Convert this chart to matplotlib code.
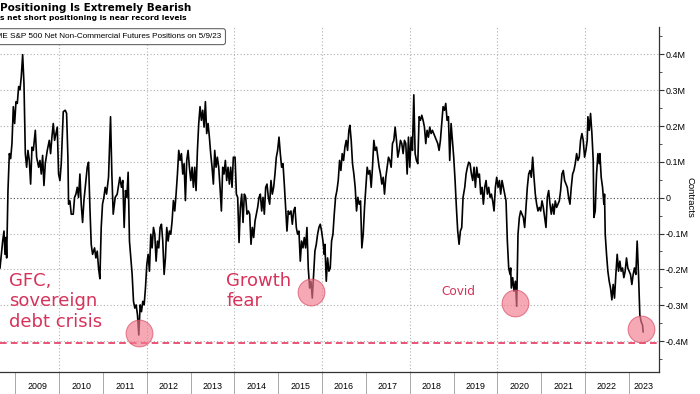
import matplotlib.pyplot as plt
from matplotlib.ticker import MultipleLocator

# CME S&P 500 net non-commercial futures positions (millions of contracts), weekly-ish reads
dates = [
    2008.649, 2008.710, 2008.740, 2008.763, 2008.786, 2008.801, 2008.831, 2008.862, 2008.892, 2008.922,
    2008.953, 2008.983, 2009.014, 2009.044, 2009.075, 2009.105, 2009.135, 2009.166, 2009.196, 2009.227,
    2009.257, 2009.287, 2009.318, 2009.348, 2009.379, 2009.409, 2009.455, 2009.485, 2009.531, 2009.561,
    2009.591, 2009.622, 2009.652, 2009.682, 2009.728, 2009.774, 2009.804, 2009.834, 2009.865, 2009.895,
    2009.926, 2009.956, 2009.986, 2010.017, 2010.047, 2010.093, 2010.138, 2010.169, 2010.199, 2010.214,
    2010.245, 2010.275, 2010.321, 2010.351, 2010.382, 2010.412, 2010.442, 2010.473, 2010.503, 2010.534,
    2010.564, 2010.610, 2010.640, 2010.670, 2010.701, 2010.731, 2010.762, 2010.807, 2010.837, 2010.868,
    2010.898, 2010.929, 2010.959, 2010.989, 2011.020, 2011.050, 2011.081, 2011.126, 2011.172, 2011.202,
    2011.233, 2011.278, 2011.324,
    2011.384, 2011.422, 2011.452, 2011.483, 2011.513, 2011.544, 2011.574, 2011.604, 2011.635, 2011.665,
    2011.696, 2011.726, 2011.756, 2011.787, 2011.817, 2011.848, 2011.878, 2011.908, 2011.939, 2011.969,
    2012.000, 2012.030, 2012.060, 2012.091, 2012.121, 2012.152, 2012.182, 2012.212, 2012.243, 2012.273,
    2012.303, 2012.334, 2012.364, 2012.395, 2012.425, 2012.455, 2012.486, 2012.516, 2012.547, 2012.577,
    2012.607, 2012.638, 2012.668, 2012.699, 2012.729, 2012.759, 2012.790, 2012.820, 2012.851, 2012.881,
    2012.911, 2012.942, 2012.972, 2013.003, 2013.033, 2013.063, 2013.094, 2013.124, 2013.155, 2013.185,
    2013.215, 2013.246, 2013.276, 2013.307, 2013.337, 2013.367, 2013.398, 2013.428, 2013.458, 2013.489,
    2013.519, 2013.550, 2013.580, 2013.610, 2013.641, 2013.671, 2013.702, 2013.732, 2013.762, 2013.793,
    2013.823, 2013.854, 2013.884, 2013.914, 2013.945, 2013.975,
    2014.014, 2014.044, 2014.074, 2014.105, 2014.135, 2014.166, 2014.196, 2014.226, 2014.257, 2014.287,
    2014.318, 2014.348, 2014.378, 2014.409, 2014.439, 2014.470, 2014.500, 2014.530, 2014.561, 2014.591,
    2014.622, 2014.652, 2014.682, 2014.713, 2014.743, 2014.774, 2014.804, 2014.834, 2014.865, 2014.895,
    2014.925, 2014.956, 2014.986, 2015.017, 2015.047, 2015.077, 2015.108, 2015.138, 2015.169, 2015.199,
    2015.229, 2015.260, 2015.290, 2015.321, 2015.351, 2015.381, 2015.412, 2015.442, 2015.472, 2015.503,
    2015.533, 2015.564, 2015.594, 2015.624, 2015.655, 2015.685, 2015.716, 2015.746, 2015.777, 2015.807,
    2015.837, 2015.868, 2015.898, 2015.928, 2015.959, 2015.989, 2016.020, 2016.050, 2016.065, 2016.096,
    2016.126, 2016.156, 2016.187, 2016.217, 2016.248, 2016.278, 2016.308, 2016.339, 2016.369, 2016.400,
    2016.430, 2016.460, 2016.491, 2016.521, 2016.552, 2016.582, 2016.612,
    2016.635, 2016.665, 2016.695, 2016.726, 2016.756, 2016.787, 2016.817, 2016.847, 2016.878, 2016.908,
    2016.939, 2016.969, 2016.999, 2017.030, 2017.060, 2017.091, 2017.121, 2017.151, 2017.182, 2017.212,
    2017.243, 2017.273, 2017.303, 2017.334, 2017.364, 2017.395, 2017.425, 2017.455, 2017.486, 2017.516,
    2017.546, 2017.577, 2017.607, 2017.638, 2017.668, 2017.698, 2017.729, 2017.759, 2017.790, 2017.820,
    2017.850, 2017.881, 2017.911, 2017.942, 2017.972, 2018.002, 2018.033, 2018.063, 2018.094, 2018.124,
    2018.154, 2018.185, 2018.215, 2018.246, 2018.276, 2018.306, 2018.337, 2018.367, 2018.397, 2018.428,
    2018.458, 2018.489, 2018.519, 2018.549, 2018.580, 2018.610, 2018.641, 2018.671, 2018.701, 2018.732,
    2018.762, 2018.793, 2018.823, 2018.853, 2018.884, 2018.914, 2018.945, 2018.975, 2019.005, 2019.036,
    2019.066, 2019.096, 2019.127, 2019.157, 2019.188, 2019.218,
    2019.257, 2019.287, 2019.317, 2019.348, 2019.378, 2019.409, 2019.439, 2019.469, 2019.500, 2019.530,
    2019.561, 2019.591, 2019.621, 2019.652, 2019.682, 2019.713, 2019.743, 2019.773, 2019.804, 2019.834,
    2019.864, 2019.895, 2019.925, 2019.956, 2019.986, 2020.017, 2020.047, 2020.077, 2020.108, 2020.138,
    2020.168, 2020.199, 2020.229, 2020.260, 2020.290, 2020.305, 2020.320, 2020.351, 2020.381, 2020.412,
    2020.442, 2020.457, 2020.472, 2020.503, 2020.533, 2020.564, 2020.594, 2020.624, 2020.655, 2020.685,
    2020.716, 2020.746, 2020.776, 2020.807, 2020.837, 2020.867, 2020.898, 2020.928, 2020.959, 2020.989,
    2021.020, 2021.050, 2021.080, 2021.111, 2021.141, 2021.172, 2021.202, 2021.232, 2021.263, 2021.293,
    2021.323, 2021.354, 2021.384, 2021.415, 2021.445, 2021.475, 2021.506, 2021.536, 2021.567, 2021.597,
    2021.627, 2021.658, 2021.688, 2021.719, 2021.749, 2021.779, 2021.810, 2021.840, 2021.870,
    2021.900, 2021.931, 2021.961, 2021.992, 2022.022, 2022.052, 2022.068, 2022.098, 2022.128, 2022.159,
    2022.189, 2022.204, 2022.235, 2022.265, 2022.296, 2022.326, 2022.341, 2022.371, 2022.402, 2022.432,
    2022.447, 2022.463, 2022.493, 2022.523, 2022.554, 2022.584, 2022.615, 2022.645, 2022.675, 2022.706,
    2022.736, 2022.767, 2022.797, 2022.827, 2022.858, 2022.888, 2022.918, 2022.949, 2022.979, 2023.010,
    2023.040, 2023.071, 2023.101, 2023.131, 2023.162, 2023.192, 2023.223, 2023.253, 2023.283, 2023.314,
    2023.329,
]
net_pos = [
    -0.196, -0.121, -0.093, -0.158, -0.111, -0.168, 0.020, 0.123, 0.109, 0.151,
    0.254, 0.207, 0.268, 0.263, 0.310, 0.301, 0.338, 0.399, 0.319, 0.123,
    0.085, 0.132, 0.104, 0.038, 0.141, 0.132, 0.188, 0.113, 0.085, 0.104,
    0.066, 0.118, 0.034, 0.095, 0.132, 0.160, 0.123, 0.169, 0.207, 0.160,
    0.179, 0.197, 0.066, 0.048, 0.095, 0.240, 0.244, 0.235, 0.113, -0.018,
    -0.009, -0.046, -0.046, 0.001, 0.010, 0.029, 0.001, 0.066, -0.018, -0.069,
    -0.009, 0.048, 0.085, 0.099, -0.027, -0.130, -0.158, -0.140, -0.168, -0.149,
    -0.196, -0.226, -0.083, -0.018, 0.001, 0.029, 0.010, 0.057, 0.226, 0.066,
    -0.046, 0.001, 0.010,
    0.057, 0.029, 0.048, -0.083, 0.020, 0.001, 0.071, -0.121, -0.168, -0.214,
    -0.289, -0.308, -0.299, -0.327, -0.383, -0.299, -0.318, -0.289, -0.299, -0.252,
    -0.186, -0.158, -0.205, -0.102, -0.140, -0.083, -0.102, -0.177, -0.121, -0.140,
    -0.083, -0.074, -0.121, -0.214, -0.168, -0.083, -0.121, -0.093, -0.102, -0.065,
    -0.008, -0.037, 0.010, 0.066, 0.132, 0.104, 0.123, 0.066, 0.095, -0.008,
    0.104, 0.132, 0.085, 0.048, 0.085, 0.029, 0.085, 0.020, 0.132, 0.207,
    0.254, 0.216, 0.244, 0.197, 0.268, 0.179, 0.207, 0.169, 0.123, 0.085,
    0.038, 0.132, 0.085, 0.113, 0.085, 0.029, -0.037, 0.085, 0.066, 0.104,
    0.048, 0.085, 0.038, 0.085, 0.029, 0.113,
    0.113, 0.010, 0.001, -0.125, -0.027, 0.010, -0.069, 0.010, 0.001, -0.046,
    -0.037, -0.046, -0.130, -0.083, -0.111, -0.065, -0.046, -0.027, 0.001, 0.010,
    -0.037, 0.001, -0.046, 0.029, 0.038, 0.001, -0.018, 0.048, 0.010, 0.029,
    0.066, 0.113, 0.132, 0.169, 0.123, 0.085, 0.095, 0.038, -0.027, -0.093,
    -0.037, -0.046, -0.037, -0.074, -0.037, -0.027, -0.083, -0.102, -0.093, -0.177,
    -0.121, -0.140, -0.111, -0.140, -0.083, -0.196, -0.252, -0.233, -0.280, -0.214,
    -0.149, -0.130, -0.102, -0.083, -0.074, -0.093, -0.121, -0.158, -0.130, -0.233,
    -0.168, -0.205, -0.196, -0.121, -0.102, -0.046, 0.001, 0.020, 0.048, 0.104,
    0.076, 0.123, 0.104, 0.141, 0.160, 0.132, 0.188,
    0.202, 0.160, 0.095, 0.066, 0.029, -0.037, 0.001, -0.018, -0.009, -0.140,
    -0.102, -0.027, 0.029, 0.085, 0.066, 0.076, 0.029, 0.085, 0.160, 0.132,
    0.141, 0.113, 0.085, 0.066, 0.038, 0.057, 0.010, 0.057, 0.085, 0.113,
    0.104, 0.085, 0.151, 0.160, 0.197, 0.160, 0.113, 0.132, 0.160, 0.151,
    0.123, 0.160, 0.151, 0.066, 0.169, 0.085, 0.169, 0.132, 0.287, 0.123,
    0.104, 0.095, 0.226, 0.216, 0.230, 0.216, 0.197, 0.151, 0.188, 0.169,
    0.197, 0.179, 0.188, 0.179, 0.169, 0.160, 0.151, 0.132, 0.160, 0.207,
    0.254, 0.244, 0.263, 0.216, 0.226, 0.104, 0.207, 0.160, 0.113, 0.048,
    -0.027, -0.093, -0.130, -0.093, -0.083, 0.001,
    0.029, 0.066, 0.085, 0.099, 0.095, 0.066, 0.048, 0.085, 0.029, 0.085,
    0.057, 0.066, 0.010, 0.029, -0.018, 0.029, 0.048, 0.010, 0.029, 0.001,
    0.010, -0.009, -0.037, 0.029, 0.057, 0.029, 0.048, 0.010, 0.048, 0.029,
    0.010, -0.009, -0.121, -0.196, -0.214, -0.196, -0.252, -0.223, -0.261, -0.233,
    -0.303, -0.196, -0.102, -0.055, -0.037, -0.046, -0.055, -0.083, -0.027, 0.029,
    0.066, 0.076, 0.057, 0.113, 0.057, 0.010, -0.018, -0.037, -0.027, -0.037,
    -0.009, -0.027, -0.055, -0.083, 0.001, 0.020, -0.018, -0.046, -0.018, -0.046,
    -0.009, -0.027, -0.018, -0.009, 0.020, 0.066, 0.076, 0.048, 0.038, 0.029,
    0.001, -0.018, 0.029, 0.066, 0.076, 0.095, 0.123, 0.104, 0.113,
    0.160, 0.179, 0.160, 0.113, 0.132, 0.160, 0.226, 0.188, 0.235, 0.179,
    0.104, -0.055, -0.037, 0.066, 0.123, 0.095, 0.123, 0.057, 0.029, -0.018,
    0.010, -0.102, -0.158, -0.205, -0.233, -0.252, -0.285, -0.242, -0.280, -0.214,
    -0.158, -0.205, -0.177, -0.205, -0.196, -0.223, -0.205, -0.168, -0.196, -0.205,
    -0.214, -0.242, -0.214, -0.196, -0.214, -0.121, -0.214, -0.327, -0.346, -0.355,
    -0.374,
]

# highlighted lows
event_x = [2011.817, 2015.754, 2020.411, 2023.276]
event_y = [-0.377, -0.264, -0.295, -0.366]

record_low = -0.405

y_ticks = [0.4, 0.3, 0.2, 0.1, 0.0, -0.1, -0.2, -0.3, -0.4]
y_labels = ['0.4M', '0.3M', '0.2M', '0.1M', '0', '-0.1M', '-0.2M', '-0.3M', '-0.4M']
year_starts = list(range(2008, 2024))
year_label_pos = [y + 0.5 for y in range(2008, 2023)] + [2023.34]
year_labels = [str(y) for y in range(2008, 2024)]
grid_years = list(range(2010, 2024, 2))

sans = ['Liberation Sans', 'DejaVu Sans']
red = '#d6335a'

fig = plt.figure(figsize=(7, 3.94), dpi=100)
ax = fig.add_axes([0, 0.0551, 0.9414, 0.8771])

for v in y_ticks:
    ax.axhline(v, color='#444444' if v == 0 else '#b0b0b0', ls=(0, (1, 2)), lw=0.8, zorder=1)
for yr in grid_years:
    ax.axvline(yr, color='#b0b0b0', ls=(0, (1, 2)), lw=0.8, zorder=1)

ax.axhline(record_low, color='#e8365f', ls=(0, (4, 2.5)), lw=1.2, zorder=2)
ax.plot(dates, net_pos, color='black', lw=1.2, zorder=3)
ax.scatter(event_x, event_y, s=370, color='#f27c8e', alpha=0.65,
           edgecolors='#d94a64', linewidths=0.8, zorder=4)

for s in ['top', 'left']:
    ax.spines[s].set_visible(False)
for s in ['bottom', 'right']:
    ax.spines[s].set_color('#333333')
    ax.spines[s].set_linewidth(0.9)

ax.yaxis.tick_right()
ax.set_yticks(y_ticks)
ax.set_yticklabels(y_labels, fontfamily=sans)
ax.yaxis.set_minor_locator(MultipleLocator(0.05))
ax.tick_params(axis='y', which='major', direction='out', length=3.5, width=0.8,
               pad=1.5, labelsize=6.4, color='#333333')
ax.tick_params(axis='y', which='minor', direction='out', length=2.5, width=0.6, color='#333333')

ax.set_xticks(year_starts)
ax.set_xticklabels([])
ax.set_xticks(year_label_pos, minor=True)
ax.set_xticklabels(year_labels, minor=True, fontfamily=sans)
ax.tick_params(axis='x', which='major', length=16, width=0.6, color='#999999')
ax.tick_params(axis='x', which='minor', length=0, pad=7, labelsize=6.4)

# limits last, set_xticks would widen them otherwise
ax.set_xlim(2008.649, 2023.69)
ax.set_ylim(-0.487, 0.477)

ax.text(2008.861, -0.206, 'GFC,\nsovereign\ndebt crisis', color=red, fontsize=13,
        va='top', ha='left', linespacing=1.2, zorder=5)
ax.text(2013.816, -0.206, 'Growth\nfear', color=red, fontsize=13,
        va='top', ha='left', linespacing=1.2, zorder=5)
ax.text(2018.717, -0.262, 'Covid', color=red, fontsize=8.7, va='center', ha='left', zorder=5)

fig.text(0.0, 0.972, 'Positioning Is Extremely Bearish', fontsize=7.5, fontweight='bold',
         va='baseline', ha='left')
fig.text(0.0, 0.9485, 's net short positioning is near record levels', fontsize=5.4,
         fontweight='bold', va='baseline', ha='left')
fig.text(221 / 700, 0.907, 'CME S&P 500 Net Non-Commercial Futures Positions on 5/9/23',
         fontsize=5.85, fontfamily=sans, ha='right', va='center',
         bbox=dict(boxstyle='round,pad=0.55,rounding_size=0.3', fc='white', ec='#666666', lw=0.8))
fig.text(690 / 700, 0.5, 'Contracts', rotation=270, fontsize=6.8, fontfamily=sans,
         ha='center', va='center')

fig.savefig('out.png', dpi=100)
